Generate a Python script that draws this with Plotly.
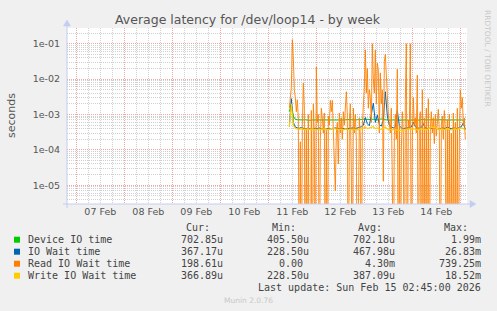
import pandas as pd
import plotly.graph_objects as go

# ---------------- data (milliseconds) ----------------
# 30-minute samples for Read IO wait, hourly samples for the other series
read_start = "2026-02-11 10:30"
hourly_start = "2026-02-11 10:30"

device_io_ms = [
    1.20, 1.99, 0.90, 0.73, 0.71, 0.70, 0.69, 0.70, 0.71, 0.69,
    0.68, 0.70, 0.70, 0.69, 0.71, 0.70, 0.68, 0.69, 0.70, 0.71,
    0.70, 0.69, 0.70, 0.68, 0.70, 0.71, 0.70, 0.69, 0.70, 0.72,
    0.71, 0.70, 0.69, 0.70, 0.71, 0.70, 0.72, 0.74, 0.73, 0.71,
    0.70, 0.72, 0.74, 0.71, 0.70, 0.73, 0.75, 0.72, 0.70, 0.71,
    0.69, 0.70, 0.71, 0.70, 0.69, 0.70, 0.71, 0.72, 0.70, 0.69,
    0.70, 0.71, 0.70, 0.70, 0.69, 0.71, 0.70, 0.72, 0.70, 0.69,
    0.70, 0.71, 0.70, 0.69, 0.70, 0.71, 0.70, 0.69, 0.71, 0.70,
    0.70, 0.69, 0.71, 0.70, 0.70, 0.71, 0.70, 0.69, 0.703,
]

io_wait_ms = [
    0.46, 2.80, 0.60, 0.44, 0.42, 0.41, 0.43, 0.40, 0.39, 0.41,
    0.40, 0.38, 0.39, 0.41, 0.40, 0.42, 0.39, 0.40, 0.38, 0.40,
    0.41, 0.39, 0.40, 0.42, 0.40, 0.39, 0.41, 0.40, 0.39, 0.40,
    0.41, 0.40, 0.42, 0.40, 0.41, 0.43, 0.45, 0.50, 0.82, 0.55,
    0.48, 1.00, 2.10, 0.60, 0.96, 0.52, 0.47, 0.70, 4.40, 0.90,
    0.50, 0.44, 0.42, 0.45, 1.30, 0.48, 0.42, 0.40, 0.41, 0.43,
    0.42, 0.44, 0.60, 0.45, 0.42, 0.41, 0.43, 0.55, 0.42, 0.40,
    0.41, 0.40, 0.42, 0.41, 0.40, 0.39, 0.41, 0.42, 0.40, 0.45,
    0.41, 0.40, 0.42, 0.41, 0.40, 0.43, 0.45, 0.58, 0.367,
]

write_io_ms = [
    0.45, 2.00, 0.50, 0.40, 0.39, 0.38, 0.40, 0.38, 0.37, 0.39,
    0.38, 0.37, 0.38, 0.36, 0.38, 0.37, 0.38, 0.39, 0.38, 0.37,
    0.38, 0.40, 0.42, 0.39, 0.38, 0.37, 0.38, 0.37, 0.39, 0.38,
    0.37, 0.38, 0.37, 0.38, 0.37, 0.38, 0.40, 0.42, 0.44, 0.40,
    0.41, 0.43, 0.45, 0.40, 0.42, 0.39, 0.38, 0.40, 0.44, 0.39,
    0.38, 0.37, 0.38, 0.36, 0.37, 0.35, 0.36, 0.35, 0.37, 0.38,
    0.39, 0.38, 0.40, 0.38, 0.37, 0.38, 0.39, 0.38, 0.37, 0.38,
    0.41, 0.43, 0.44, 0.42, 0.40, 0.38, 0.39, 0.37, 0.38, 0.39,
    0.38, 0.37, 0.38, 0.39, 0.38, 0.40, 0.42, 0.40, 0.367,
]

read_io_ms = [
    1.5, 2.5, 6.0, 130, 40, 5.0, 3.0, 1.2, 2.6, 0.8,
    0, 0.17, 0, 0.5, 7.7, 1.5, 0, 0.4, 0, 1.0,
    0, 0, 1.3, 0, 2.0, 0.3, 0, 22, 0.6, 1.0,
    0, 0.2, 1.5, 0.8, 0.3, 1.1, 0, 0.4, 0, 0.9,
    0.5, 2.5, 1.2, 2.5, 0.4, 0.1, 0.007, 0.3, 0.6, 0.04,
    1.1, 0.3, 0.8, 0.2, 1.2, 0.5, 1.5, 4.4, 1.0, 0,
    0.6, 2.0, 0.02, 0, 1.5, 0.3, 1.0, 0.2, 0, 0,
    0.8, 0.25, 0, 0.5, 1.5, 6, 66, 4, 20, 1.5,
    5, 3, 0.6, 100, 10, 4, 66, 2, 28, 18,
    0.3, 15, 2, 5, 0.013, 31, 50, 6, 3.5, 1.0,
    0.4, 0.3, 1.5, 0.015, 0, 0.25, 1.0, 0.2, 19, 0,
    0.5, 0, 0.1, 1.2, 0.3, 0, 2.5, 100, 0, 0.7,
    0.4, 100, 0, 0.2, 3, 0.5, 0.8, 0.3, 13, 0,
    0.6, 1.2, 0, 5, 0, 0.8, 0, 1.5, 0, 2.8,
    0, 0.4, 1.2, 0.3, 0.8, 0.15, 1.0, 0.25, 0.6, 1.4,
    0.3, 0, 0.5, 0.9, 0.2, 1.3, 0.4, 0, 0.7, 0,
    1.0, 0, 0.3, 0, 1.1, 0, 0.6, 0, 1.5, 0,
    0.2, 5, 1.5, 3, 0.5, 0.8, 0.1986,
]

series_names = ["Device IO time", "IO Wait time", "Read IO Wait time", "Write IO Wait time"]
series_colors = ["#00CC00", "#0066B3", "#FF8000", "#FFCC00"]
cur_vals = ["702.85u", "367.17u", "198.61u", "366.89u"]
min_vals = ["405.50u", "228.50u", "0.00", "228.50u"]
avg_vals = ["702.18u", "467.98u", "4.30m", "387.09u"]
max_vals = ["1.99m", "26.83m", "739.25m", "18.52m"]

y_tickvals = [1e-5, 1e-4, 1e-3, 1e-2, 1e-1]
y_ticktext = ["1e-05", "1e-04", "1e-03", "1e-02", "1e-01"]

title_text = "Average latency for /dev/loop14 - by week"
last_update = "Last update: Sun Feb 15 02:45:00 2026"

# ---------------- figure ----------------
W_FIG, H_FIG = 497, 311
L, R, T, B = 67, 30, 28, 107
PW = W_FIG - L - R
PH = H_FIG - T - B


def px(x):
    return (x - L) / PW


def py(y):
    return (H_FIG - B - y) / PH


t_hourly = pd.date_range(hourly_start, periods=len(device_io_ms), freq="60min")
t_read = pd.date_range(read_start, periods=len(read_io_ms), freq="30min")

FLOOR = 1e-9  # zero values are drawn at the bottom of the log scale (like rrdtool)


def to_s(vals):
    return [v / 1000.0 if v > 0 else FLOOR for v in vals]


fig = go.Figure()
fig.add_trace(go.Scatter(x=t_hourly, y=to_s(device_io_ms), mode="lines",
                         line=dict(color=series_colors[0], width=1), name=series_names[0]))
fig.add_trace(go.Scatter(x=t_hourly, y=to_s(io_wait_ms), mode="lines",
                         line=dict(color=series_colors[1], width=1), name=series_names[1]))
fig.add_trace(go.Scatter(x=t_read, y=to_s(read_io_ms), mode="lines",
                         line=dict(color=series_colors[2], width=0.9), name=series_names[2]))
fig.add_trace(go.Scatter(x=t_hourly, y=to_s(write_io_ms), mode="lines",
                         line=dict(color=series_colors[3], width=1.2), name=series_names[3]))

minor_y = [m * 10 ** e for e in range(-6, 0) for m in range(2, 10)]

GRID_MINOR = "#D0D0D0"
GRID_MAJOR = "#F2A6A6"
DASH = "1px,1px"
TICKFONT = dict(family="DejaVu Sans", size=9.5, color="#555555")

fig.update_layout(
    width=W_FIG, height=H_FIG,
    margin=dict(l=L, r=R, t=T, b=B),
    paper_bgcolor="#F0F0F0",
    plot_bgcolor="#FFFFFF",
    showlegend=False,
    xaxis=dict(
        type="date",
        range=["2026-02-06 19:20", "2026-02-15 03:20"],
        tick0="2026-02-07 00:00", dtick=86400000,
        tickformat="%d %b", ticklabelmode="period",
        showgrid=True, gridcolor=GRID_MAJOR, griddash=DASH, gridwidth=1,
        minor=dict(dtick=21600000, tick0="2026-02-07 00:00", showgrid=True,
                   gridcolor=GRID_MINOR, griddash=DASH, gridwidth=1),
        ticks="", tickfont=TICKFONT, showline=False, zeroline=False,
        fixedrange=True,
    ),
    yaxis=dict(
        type="log",
        range=[-5.528, -0.557],
        tickmode="array", tickvals=y_tickvals, ticktext=y_ticktext,
        showgrid=True, gridcolor=GRID_MAJOR, griddash=DASH, gridwidth=1,
        minor=dict(tickmode="array", tickvals=minor_y, showgrid=True,
                   gridcolor=GRID_MINOR, griddash=DASH, gridwidth=1),
        ticks="outside", ticklen=4, tickcolor="rgba(0,0,0,0)",
        tickfont=TICKFONT, showline=False, zeroline=False,
        fixedrange=True,
    ),
)

AXIS_COL = "#C4CCF2"
shapes = [
    # x axis line + arrow
    dict(type="line", xref="paper", yref="paper", x0=px(63), x1=px(471), y0=py(204), y1=py(204),
         line=dict(color=AXIS_COL, width=1)),
    dict(type="path", xref="paper", yref="paper",
         path=f"M {px(470)} {py(200.5)} L {px(476)} {py(204)} L {px(470)} {py(207.5)} Z",
         fillcolor=AXIS_COL, line=dict(color=AXIS_COL, width=0.5)),
    # y axis line + arrow
    dict(type="line", xref="paper", yref="paper", x0=px(67), x1=px(67), y0=py(208), y1=py(25),
         line=dict(color=AXIS_COL, width=1)),
    dict(type="path", xref="paper", yref="paper",
         path=f"M {px(63.5)} {py(26)} L {px(67)} {py(20)} L {px(70.5)} {py(26)} Z",
         fillcolor=AXIS_COL, line=dict(color=AXIS_COL, width=0.5)),
]

MONO = dict(family="DejaVu Sans Mono", size=10, color="#444444")
annotations = [
    dict(text=title_text, x=px(248), y=py(19), xref="paper", yref="paper",
         xanchor="center", yanchor="middle", showarrow=False,
         font=dict(family="DejaVu Sans", size=12.5, color="#555555")),
    dict(text="seconds", x=px(12), y=py(115), xref="paper", yref="paper",
         xanchor="center", yanchor="middle", showarrow=False, textangle=-90,
         font=dict(family="DejaVu Sans", size=11, color="#555555")),
    dict(text="RRDTOOL / TOBI OETIKER", x=px(487), y=py(58), xref="paper", yref="paper",
         xanchor="center", yanchor="middle", showarrow=False, textangle=90,
         font=dict(family="DejaVu Sans", size=7.5, color="#C8C8C8")),
    dict(text="Munin 2.0.76", x=px(248), y=py(300), xref="paper", yref="paper",
         xanchor="center", yanchor="middle", showarrow=False,
         font=dict(family="DejaVu Sans", size=7.5, color="#C8C8C8")),
]

header_y = 227.3
for label, xr in [("Cur:", 212), ("Min:", 298), ("Avg:", 384), ("Max:", 470)]:
    annotations.append(dict(text=label, x=px(xr), y=py(header_y), xref="paper", yref="paper",
                            xanchor="right", yanchor="middle", showarrow=False, font=MONO))

row_ys = [239.7, 251.7, 263.7, 275.7]
for i, ry in enumerate(row_ys):
    shapes.append(dict(type="rect", xref="paper", yref="paper",
                       x0=px(14), x1=px(20), y0=py(ry - 3), y1=py(ry + 3),
                       fillcolor=series_colors[i], line=dict(width=0)))
    annotations.append(dict(text=series_names[i], x=px(26), y=py(ry), xref="paper", yref="paper",
                            xanchor="left", yanchor="middle", showarrow=False, font=MONO))
    for val, xr in [(cur_vals[i], 225), (min_vals[i], 311 if min_vals[i].endswith(("u", "m")) else 305),
                    (avg_vals[i], 397), (max_vals[i], 483)]:
        annotations.append(dict(text=val, x=px(xr), y=py(ry), xref="paper", yref="paper",
                                xanchor="right", yanchor="middle", showarrow=False, font=MONO))

annotations.append(dict(text=last_update, x=px(483), y=py(287.7), xref="paper", yref="paper",
                        xanchor="right", yanchor="middle", showarrow=False, font=MONO))

fig.update_layout(shapes=shapes, annotations=annotations)

fig.write_html("out.html", config={"displayModeBar": False, "staticPlot": True})
